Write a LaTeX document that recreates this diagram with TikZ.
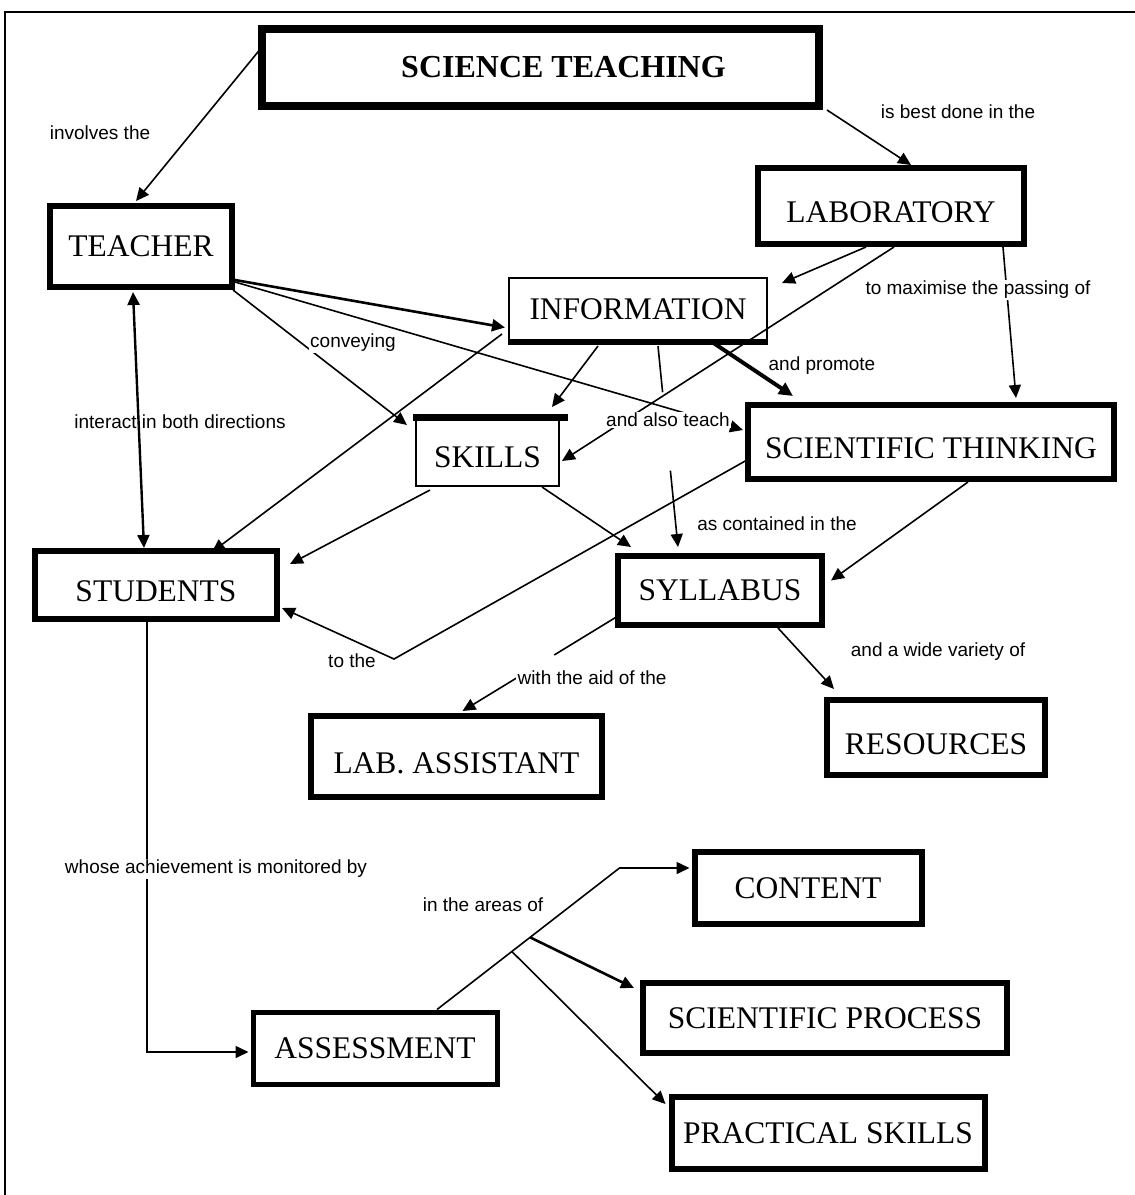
\documentclass[tikz,border=0pt]{standalone}
\usepackage{fontspec}
\setmainfont{Liberation Serif}
\newfontfamily\lblfont{Liberation Sans}
\usetikzlibrary{arrows.meta,calc}
\begin{document}
\begin{tikzpicture}[x=1pt,y=-1pt,
  cbox/.style={draw, line width=6pt, inner sep=0pt, font=\fontsize{31.5}{36}\selectfont},
  tbox/.style={draw, line width=2pt, inner sep=0pt, font=\fontsize{31.5}{36}\selectfont},
  low/.style={text height=33pt, text depth=0pt},
  lbl/.style={font=\lblfont\fontsize{19}{22}\selectfont, fill=white, inner sep=1.5pt},
  lblnf/.style={font=\lblfont\fontsize{19}{22}\selectfont, inner sep=1.5pt},
  conn/.style={line width=1.6pt},
  arr/.style={conn, -{Triangle[length=13pt,width=12pt]}},
  darr/.style={conn, {Triangle[length=13pt,width=12pt]}-{Triangle[length=13pt,width=12pt]}},
]
\useasboundingbox (0,0) rectangle (1135,1195);
% outer frame
\draw[line width=2pt] (5,1195) -- (5,12) -- (1135,12);

% concept boxes
\node[cbox, line width=8pt, minimum width=557pt, minimum height=77pt,
      font=\bfseries\fontsize{32}{36}\selectfont] (st) at (540.5,67.5) {\hspace*{46pt}SCIENCE TEACHING};
\node[cbox, minimum width=182pt, minimum height=81pt] (teacher) at (141,246.5) {TEACHER};
\node[cbox, low, minimum width=266pt, minimum height=76pt] (lab) at (891,206) {LABORATORY};
\node[tbox, minimum width=258pt, minimum height=63pt] (info) at (638,309.5) {INFORMATION};
\node[tbox, low, minimum width=143pt, minimum height=70pt] (skills) at (487.5,451) {SKILLS};
\node[cbox, low, minimum width=366pt, minimum height=74pt] (sci) at (931,442) {SCIENTIFIC THINKING};
\node[cbox, low, minimum width=242pt, minimum height=68pt] (students) at (156,585) {STUDENTS};
\node[cbox, minimum width=204pt, minimum height=69pt] (syllabus) at (720,590.5) {SYLLABUS};
\node[cbox, low, minimum width=291pt, minimum height=81pt] (labasst) at (456.5,756.5) {LAB. ASSISTANT};
\node[cbox, low, minimum width=218pt, minimum height=75pt] (resources) at (936,737.5) {RESOURCES};
\node[cbox, minimum width=227pt, minimum height=72pt] (content) at (808,888) {CONTENT};
\node[cbox, minimum width=364pt, minimum height=70pt] (sciproc) at (825,1018) {SCIENTIFIC PROCESS};
\node[cbox, minimum width=313pt, minimum height=72pt] (practical) at (828,1133) {PRACTICAL SKILLS};
\node[cbox, line width=5pt, minimum width=244pt, minimum height=72pt] (assess) at (375,1048) {ASSESSMENT};

% heavy edges of the thin boxes
\draw[line width=6pt] (info.south west) -- (info.south east);
\draw[line width=7pt] ($(skills.north west)+(-2,2)$) -- ($(skills.north east)+(8,2)$);

% connectors
\draw[arr] ($(st.north west)+(4,22)$) -- ($(teacher.north)+(-5,-2)$);
\draw[arr] ($(st.south east)+(4,0)$) -- ($(lab.north)+(20,0)$);
\draw[darr, line width=2.4pt] ($(teacher.south)+(-8,2)$) -- ($(students.north)+(-12,0)$);
\draw[arr, line width=2.6pt] ($(teacher.south east)+(0,-10)$) -- ($(info.west)+(-3,18)$);
\draw[arr] ($(teacher.south east)+(0,-8)$) -- ($(sci.west)+(-2,-12)$);
\draw[arr] ($(teacher.south east)+(-2,0)$) -- ($(skills.north west)+(-8,10)$);
\draw[arr] ($(info.south west)+(-6,-8)$) -- ($(students.north)+(56,4)$);
\draw[arr] ($(info.south)+(-40,4)$) -- ($(skills.north east)+(-8,-8)$);
\coordinate (i9a) at ($(info.south)+(20,4)$);
\coordinate (i9b) at ($(syllabus.north)+(-42,-6)$);
\draw[conn] (i9a) -- ($(i9a)!0.23!(i9b)$);
\draw[arr] ($(i9a)!0.62!(i9b)$) -- (i9b);
\draw[conn, line width=4pt, -{Triangle[length=14pt,width=13pt]}] ($(info.south east)+(-56,0)$) -- ($(sci.north west)+(48,-6)$);
\draw[arr] ($(lab.south)+(-25,0)$) -- ($(info.north east)+(14,6)$);
\draw[arr] ($(lab.south)+(3,0)$) -- ($(skills.east)+(2,10)$);
\draw[arr] ($(lab.south east)+(-24,0)$) -- ($(sci.north)+(85,-4)$);
\draw[arr] ($(skills.south east)+(-18,0)$) -- ($(syllabus.north west)+(16,-6)$);
\draw[arr] ($(skills.south west)+(15,3)$) -- ($(students.north east)+(10,16)$);
\coordinate (tt) at (394,659);
\draw[arr] ($(sci.south west)+(2,-22)$) -- (tt) -- ($(students.south east)+(2,-14)$);
\draw[arr] ($(sci.south)+(37,0)$) -- ($(syllabus.east)+(6,-10)$);
\coordinate (s18a) at ($(syllabus.south west)+(3,-12)$);
\coordinate (s18b) at ($(labasst.north)+(6,-2)$);
\draw[conn] (s18a) -- ($(s18a)!0.41!(s18b)$);
\draw[arr] ($(s18a)!0.65!(s18b)$) -- (s18b);
\draw[arr] ($(syllabus.south)+(58,0)$) -- ($(resources.north west)+(10,-8)$);
\draw[arr] ($(students.south)+(-9,0)$) |- ($(assess.west)+(-2,4)$);
\coordinate (a21) at ($(assess.north)+(62,0)$);
\coordinate (c21) at ($(content.west)+(-72,-20)$);
\draw[arr] (a21) -- (c21) -- ($(content.west)+(-2,-20)$);
\draw[arr, line width=2.6pt] ($(a21)!0.51!(c21)$) -- ($(sciproc.north west)+(-6,8)$);
\draw[arr] ($(a21)!0.41!(c21)$) -- ($(practical.north west)+(-3,10)$);

% linking phrases
\node[lbl] (l1) at (100,133) {involves the};
\node[lbl] (l2) at (958,112) {is best done in the};
\node[lbl] (l3) at (978,290) {to maximise the passing of};
\node[lbl] (l4) at (353,343) {conveying};
\node[lbl] (l5) at (822,366) {and promote};
\node[lblnf] (l6) at (180,422) {interact in both directions};
\node[lbl] (l7) at (668,420) {and also teach};
\node[lbl] (l8) at (777,524) {as contained in the};
\node[lbl] (l9) at (352,661) {to the};
\node[lbl] (l10) at (592,678) {with the aid of the};
\node[lbl] (l11) at (938,652) {and a wide variety of};
\node[lbl] (l12) at (216,869) {whose achievement is monitored by};
\node[lbl] (l13) at (483,905) {in the areas of};
\end{tikzpicture}
\end{document}
